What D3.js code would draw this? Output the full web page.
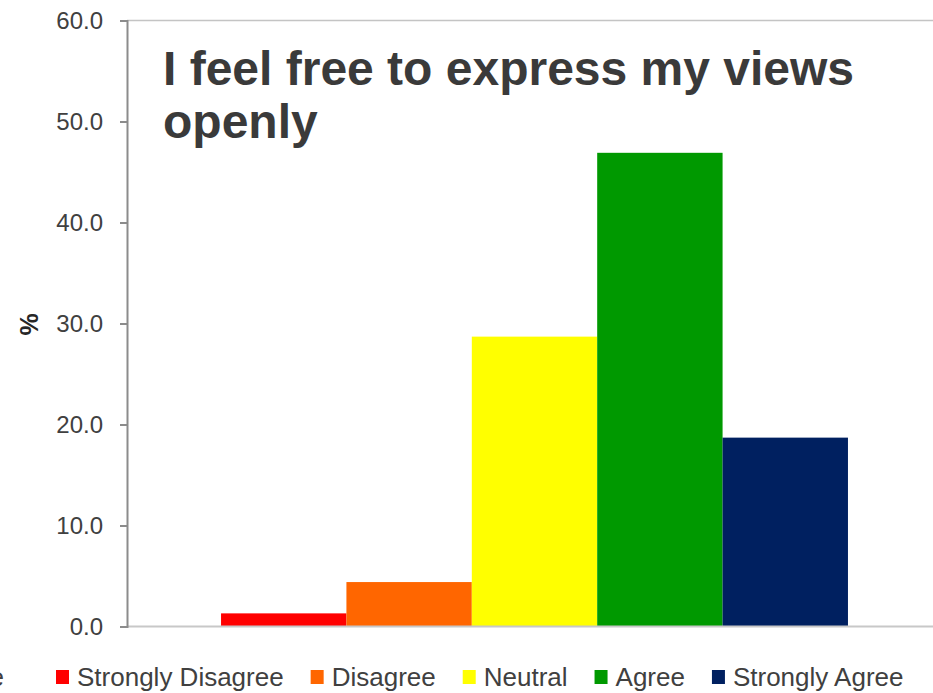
<!DOCTYPE html>
<html lang="en">
<head>
    <meta charset="UTF-8">
    <title>I feel free to express my views openly</title>
    <script src="https://d3js.org/d3.v7.min.js"></script>
    <style>
        body {
            margin: 0;
            background-color: #ffffff;
        }
        svg {
            display: block;
            font-family: "Liberation Sans", Arial, sans-serif;
        }
        .tick text {
            font-size: 24px;
            fill: #404040;
        }
        .chart-title {
            font-size: 48px;
            font-weight: bold;
            fill: #3a3a3a;
        }
        .axis-label {
            font-size: 25px;
            font-weight: bold;
            fill: #262626;
        }
        .legend text {
            font-size: 26px;
            fill: #404040;
        }
    </style>
</head>
<body>
    <div id="chart"></div>
    <script>
        const width = 933;
        const height = 693;

        // data
        const question = "I feel free to express my views openly";
        const responses = ["Strongly Disagree", "Disagree", "Neutral", "Agree", "Strongly Agree"];
        const percents = [1.3, 4.4, 28.7, 46.9, 18.7];
        const colors = ["#ff0000", "#ff6600", "#ffff00", "#009900", "#002060"];
        const yTicks = [0, 10, 20, 30, 40, 50, 60];

        const margin = { top: 20.5, right: -9, bottom: 66.5, left: 127 };

        const svg = d3.select("#chart")
            .append("svg")
            .attr("width", width)
            .attr("height", height);

        const x0 = d3.scaleBand()
            .domain([question])
            .range([margin.left, width - margin.right])
            .paddingInner(0)
            .paddingOuter(0.15);

        const x1 = d3.scaleBand()
            .domain(responses)
            .range([0, x0.bandwidth()])
            .padding(0);

        const y = d3.scaleLinear()
            .domain([0, 60])
            .range([height - margin.bottom, margin.top]);

        const color = d3.scaleOrdinal()
            .domain(responses)
            .range(colors);

        // plot area top border
        svg.append("line")
            .attr("x1", margin.left)
            .attr("x2", width)
            .attr("y1", y(60))
            .attr("y2", y(60))
            .attr("stroke", "#c4c4c4")
            .attr("stroke-width", 1.5);

        // bars
        svg.append("g")
            .selectAll("rect")
            .data(responses.map((r, i) => ({ name: r, value: percents[i] })))
            .enter()
            .append("rect")
            .attr("x", d => x0(question) + x1(d.name))
            .attr("y", d => y(d.value))
            .attr("width", x1.bandwidth())
            .attr("height", d => y(0) - y(d.value))
            .attr("fill", d => color(d.name));

        // x baseline
        svg.append("line")
            .attr("x1", margin.left)
            .attr("x2", width)
            .attr("y1", y(0))
            .attr("y2", y(0))
            .attr("stroke", "#c8c8c8")
            .attr("stroke-width", 2);

        // y axis
        const yAxis = svg.append("g")
            .attr("transform", `translate(${margin.left},0)`)
            .call(d3.axisLeft(y)
                .tickValues(yTicks)
                .tickFormat(d3.format(".1f"))
                .tickSize(7)
                .tickPadding(17));

        yAxis.select(".domain")
            .attr("stroke", "#8c8c8c")
            .attr("stroke-width", 2);
        yAxis.selectAll(".tick line")
            .attr("stroke", "#8c8c8c")
            .attr("stroke-width", 2);

        svg.append("text")
            .attr("class", "axis-label")
            .attr("transform", `translate(38, ${(y(0) + y(60)) / 2 + 1}) rotate(-90)`)
            .attr("text-anchor", "middle")
            .text("%");

        // title (two lines like the original)
        const title = svg.append("text")
            .attr("class", "chart-title")
            .attr("x", 163)
            .attr("y", 85);
        title.append("tspan")
            .attr("x", 163)
            .text("I feel free to express my views");
        title.append("tspan")
            .attr("x", 163)
            .attr("dy", 53)
            .text("openly");

        // legend
        const legend = svg.append("g")
            .attr("class", "legend")
            .attr("transform", "translate(0, 677)");

        // entry cut off at the left edge, as in the source image
        legend.append("text")
            .attr("x", 4)
            .attr("dy", "0.35em")
            .attr("text-anchor", "end")
            .text("e");

        let lx = 56;
        responses.forEach((r, i) => {
            const item = legend.append("g").attr("transform", `translate(${lx},0)`);
            item.append("rect")
                .attr("x", 0)
                .attr("y", -7)
                .attr("width", 13)
                .attr("height", 14)
                .attr("fill", colors[i]);
            const t = item.append("text")
                .attr("x", 21)
                .attr("dy", "0.35em")
                .text(r);
            lx += 21 + t.node().getComputedTextLength() + 27;
        });
    </script>
</body>
</html>
